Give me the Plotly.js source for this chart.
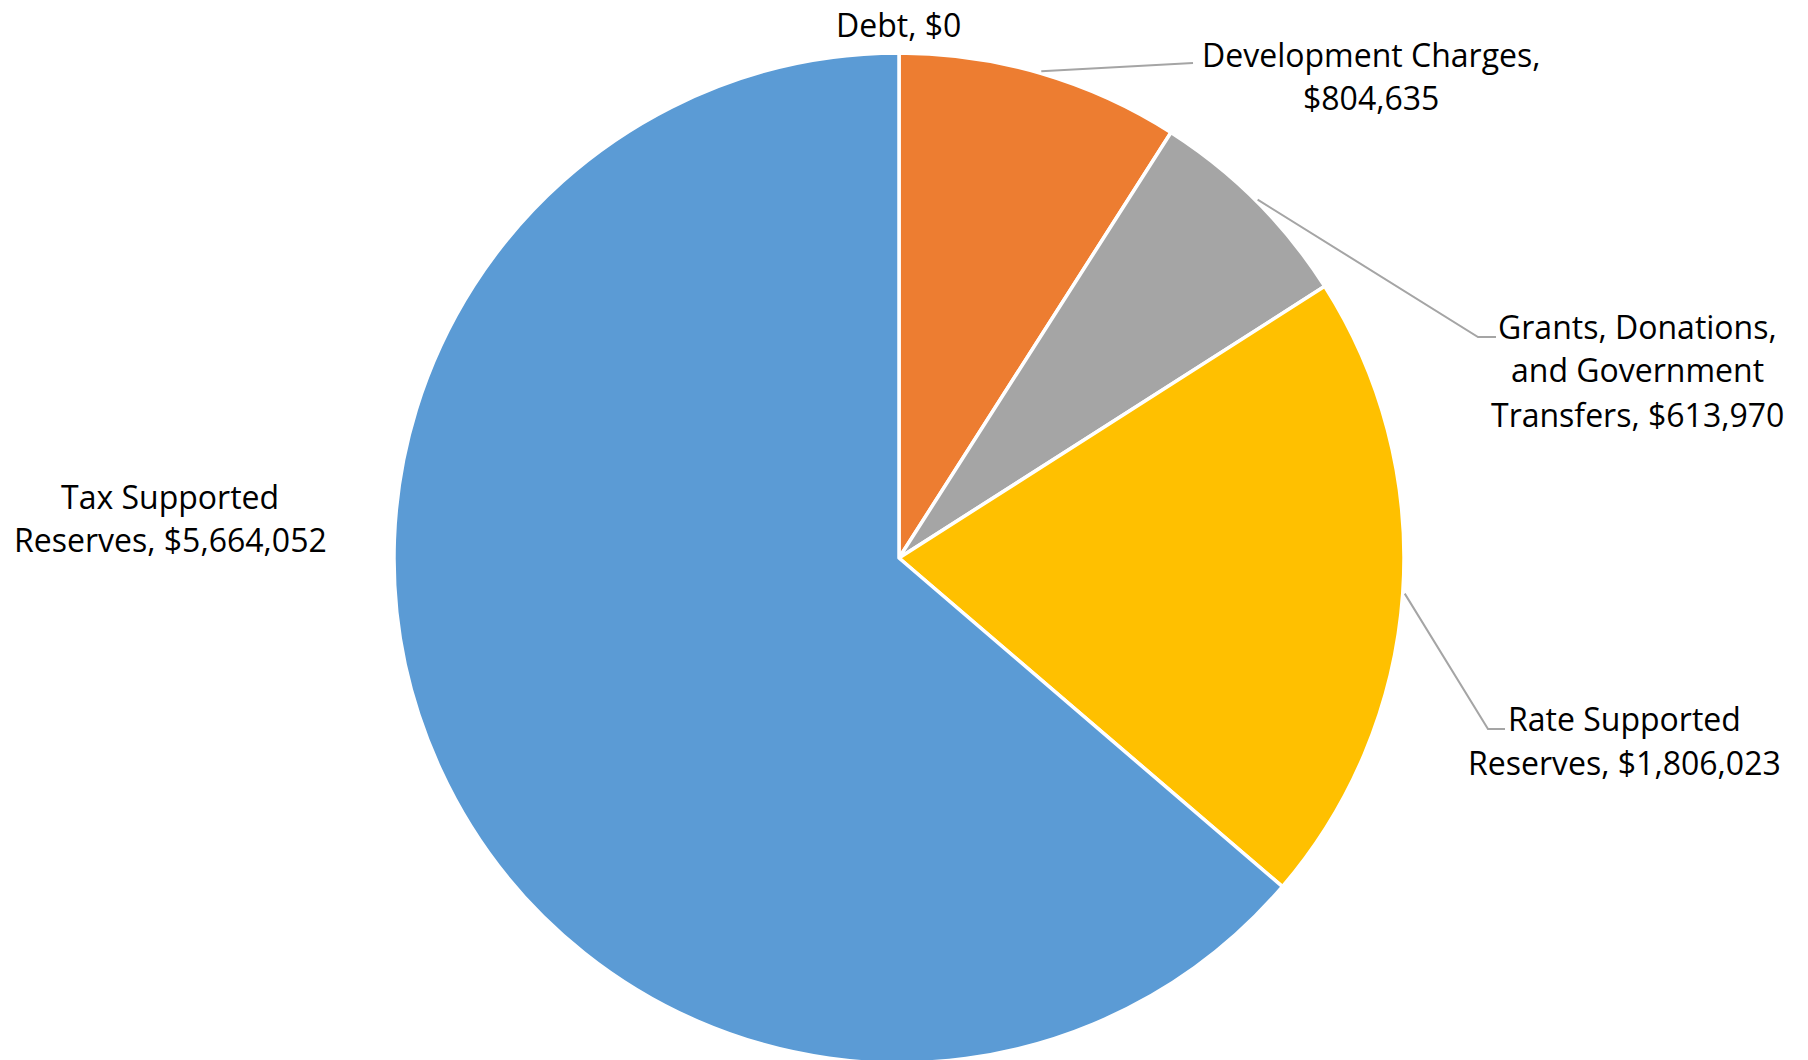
<!DOCTYPE html>
<html><head><meta charset="utf-8">
<script src="https://cdn.plot.ly/plotly-3.0.1.min.js"></script>
<style>html,body{margin:0;padding:0;background:#fff;overflow:hidden}</style>
</head><body><div id="chart" style="width:1808px;height:1070px"></div>
<script>
// ---- data ----
const categories = ["Debt", "Development Charges", "Grants, Donations, and Government Transfers", "Rate Supported Reserves", "Tax Supported Reserves"];
const values = [0, 804635, 613970, 1806023, 5664052];
const colors = ["#4472C4", "#ED7D31", "#A5A5A5", "#FFC000", "#5B9BD5"];
// how each data label is broken into lines (number of words per line)
const labelWrap = [[2], [2, 1], [2, 2, 2], [2, 2], [2, 2]];

// ---- layout constants ----
const W = 1808, H = 1070;   // plot slightly taller than the window: the pie's bottom edge is clipped
const cx = 899, cy = 558, R = 505;
// label line centres in pixels: [x, firstLineY]
const labelPos = [[898, 24], [1371, 54], [1637, 326], [1624, 718], [170, 496]];
const lineGap = 44;
// leader elbows (pixels), null = no leader
const leaders = [null, [[1193, 63]], [[1478, 337], [1496, 337]], [[1488, 729], [1505, 729]], null];

function fmt(v) { return "$" + v.toLocaleString("en-US"); }
function wrapLabel(i) {
  const words = (categories[i] + ", " + fmt(values[i])).split(" ");
  const lines = []; let k = 0;
  labelWrap[i].forEach(n => { lines.push(words.slice(k, k + n).join(" ")); k += n; });
  if (k < words.length) lines[lines.length - 1] += " " + words.slice(k).join(" ");
  return lines;
}
const px = x => x / W, py = y => 1 - y / H;

const total = values.reduce((a, b) => a + b, 0);
let cum = 0;
const annotations = [], shapes = [];
values.forEach((v, i) => {
  const mid = (cum + v / 2) / total * 2 * Math.PI;
  cum += v;
  const lines = wrapLabel(i);
  lines.forEach((t, j) => {
    annotations.push({
      xref: "paper", yref: "paper", x: px(labelPos[i][0]), y: py(labelPos[i][1] + j * lineGap),
      xanchor: "center", yanchor: "middle", showarrow: false, text: t,
      font: {family: "Open Sans, sans-serif", size: 32, color: "#000"}
    });
  });
  if (leaders[i]) {
    const sx = cx + (R + 2) * Math.sin(mid), sy = cy - (R + 2) * Math.cos(mid);
    let d = "M" + px(sx) + "," + py(sy);
    leaders[i].forEach(p => { d += " L" + px(p[0]) + "," + py(p[1]); });
    shapes.push({type: "path", xref: "paper", yref: "paper", path: d, line: {color: "#A5A5A5", width: 2}});
  }
});

const trace = {
  type: "pie", labels: categories, values: values, sort: false, direction: "clockwise", rotation: 0,
  marker: {colors: colors, line: {color: "#FFFFFF", width: 3.5}},
  textinfo: "none", hoverinfo: "skip",
  domain: {x: [(cx - R) / W, (cx + R) / W], y: [(H - cy - R) / H, (H - cy + R) / H]}
};
Plotly.newPlot("chart", [trace], {
  width: W, height: H, margin: {l: 0, r: 0, t: 0, b: 0},
  paper_bgcolor: "#fff", showlegend: false, annotations: annotations, shapes: shapes
}, {displayModeBar: false, staticPlot: true});
</script></body></html>
